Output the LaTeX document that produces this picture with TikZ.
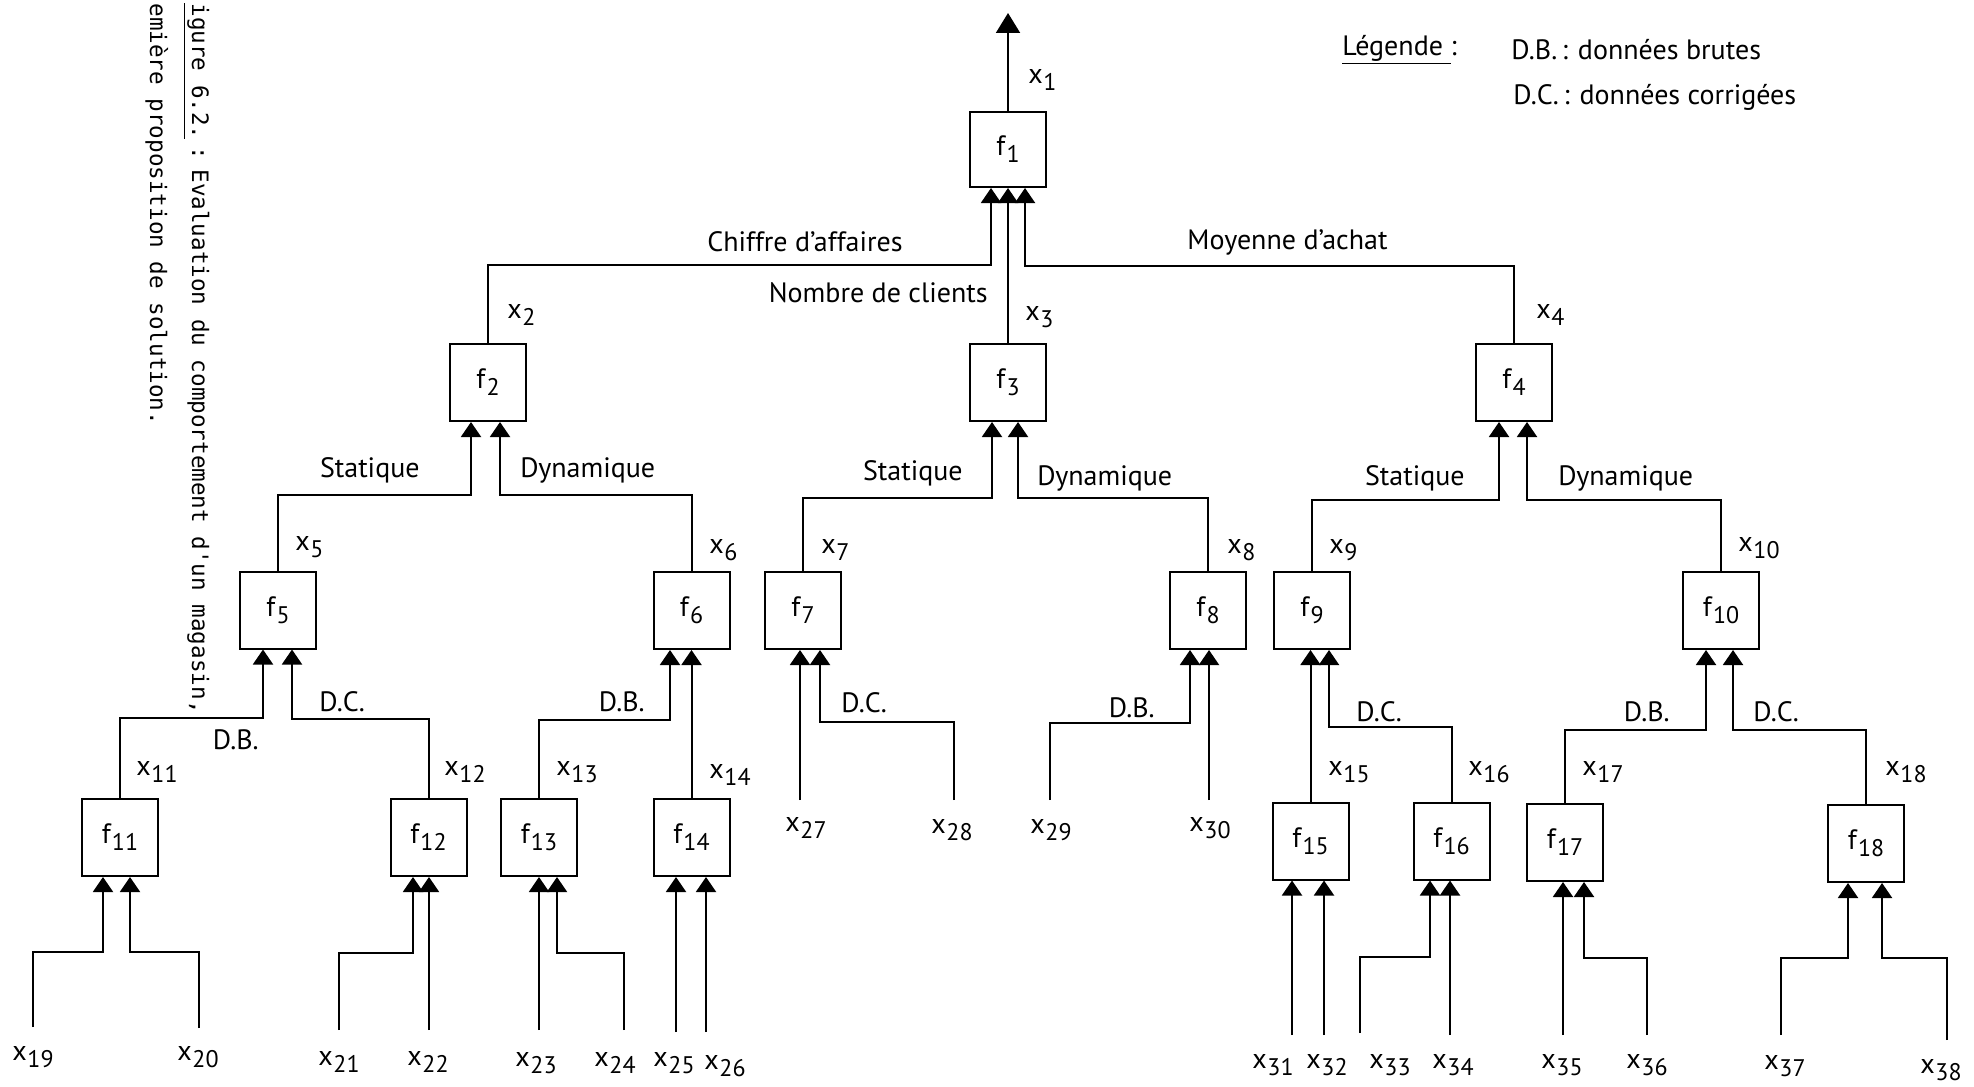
\documentclass[tikz,border=0pt]{standalone}
\usepackage{fontspec}
\setmainfont{PT Sans}
\newfontfamily\capfont{DejaVu Sans Mono}
\usetikzlibrary{arrows.meta}
\newcommand\xv[1]{x\kern0.3pt\raisebox{-3.5pt}{\fontsize{12}{12}\selectfont #1}}
\newcommand\fv[1]{f\kern0.6pt\raisebox{-3.5pt}{\fontsize{12}{12}\selectfont #1}}
\begin{document}
\begin{tikzpicture}[x=0.5pt,y=-0.5pt,
  fbox/.style={draw,line width=1pt,minimum width=38pt,minimum height=38.5pt,inner sep=0pt,font=\fontsize{14}{16}\selectfont},
  wire/.style={line width=1pt},
  inarr/.style={wire,-{Triangle[width=10pt,length=7.5pt]}},
  toparr/.style={wire,-{Triangle[width=12pt,length=10pt]}},
  lab/.style={inner sep=0pt,font=\fontsize{14}{16}\selectfont},
  captxt/.style={inner sep=0pt,font=\capfont\fontsize{11.3}{13}\selectfont}]
\useasboundingbox (0,0) rectangle (1974,1086);
\fill[white] (0,0) rectangle (1974,1086);

% caption
\node[captxt,rotate=-90,anchor=base west] (c1a) at (192,3) {\underline{igure 6.2.}};
\node[captxt,rotate=-90,anchor=base] (c1b) at (192,153) {:};
\node[captxt,rotate=-90,anchor=base west] (c1) at (192,169) {Evaluation du comportement d'un magasin,};
\node[captxt,rotate=-90,anchor=base west] (c2) at (150,3) {emière proposition de solution.};

% legend
\node[lab,anchor=west] (leg) at (1342,50) {\underline{Légende\ }:};
\node[lab,anchor=west] (db) at (1511,50) {D.B.\,: données brutes};
\node[lab,anchor=west] (dc) at (1513,97) {D.C.\,: données corrigées};

% boxes
\node[fbox,minimum height=37.5pt] (f1) at (1008,149.5) {\fv{1}};
\node[fbox] (f2) at (488,382.5) {\fv{2}};
\node[fbox] (f3) at (1008,382.5) {\fv{3}};
\node[fbox] (f4) at (1514,382.5) {\fv{4}};
\node[fbox] (f5) at (278,610) {\fv{5}};
\node[fbox] (f6) at (691.5,610.5) {\fv{6}};
\node[fbox] (f7) at (803,610.5) {\fv{7}};
\node[fbox] (f8) at (1208,610.5) {\fv{8}};
\node[fbox] (f9) at (1312,610.5) {\fv{9}};
\node[fbox] (f10) at (1721,610.5) {\fv{10}};
\node[fbox] (f11) at (120,837.5) {\fv{11}};
\node[fbox] (f12) at (428.5,837.5) {\fv{12}};
\node[fbox] (f13) at (539,837.5) {\fv{13}};
\node[fbox] (f14) at (691.5,837.5) {\fv{14}};
\node[fbox] (f15) at (1310.5,841) {\fv{15}};
\node[fbox] (f16) at (1451.5,841) {\fv{16}};
\node[fbox] (f17) at (1565,842.5) {\fv{17}};
\node[fbox] (f18) at (1866,843.5) {\fv{18}};

% top output
\coordinate (top) at (1008,13);
\draw[toparr] (f1.north) -- (top);

% level A
\draw[inarr] (f2.north) |- (991,265) -- (991,265 |- f1.south);
\draw[inarr] (f3.north) -- (f3.north |- f1.south);
\draw[inarr] (f4.north) |- (1025,266) -- (1025,266 |- f1.south);

% level B
\draw[inarr] (f5.north) |- (471,495) -- (471,495 |- f2.south);
\draw[inarr] (f6.north) |- (500,495) -- (500,495 |- f2.south);
\draw[inarr] (f7.north) |- (992,498) -- (992,498 |- f3.south);
\draw[inarr] (f8.north) |- (1018,498) -- (1018,498 |- f3.south);
\draw[inarr] (f9.north) |- (1499,500) -- (1499,500 |- f4.south);
\draw[inarr] (f10.north) |- (1527,500) -- (1527,500 |- f4.south);

% level C
\draw[inarr] (f11.north) |- (263,718) -- (263,718 |- f5.south);
\draw[inarr] (f12.north) |- (292,719) -- (292,719 |- f5.south);
\draw[inarr] (f13.north) |- (670,720) -- (670,720 |- f6.south);
\draw[inarr] (f14.north) -- (f14.north |- f6.south);
\coordinate (e27) at (800,800);
\coordinate (e28) at (954,800);
\coordinate (e29) at (1050,800);
\coordinate (e30) at (1209,800);
\draw[inarr] (e27) -- (e27 |- f7.south);
\draw[inarr] (e28) |- (820,722) -- (820,722 |- f7.south);
\draw[inarr] (e29) |- (1190,723) -- (1190,723 |- f8.south);
\draw[inarr] (e30) -- (e30 |- f8.south);
\draw[inarr] (f15.north) -- (f15.north |- f9.south);
\draw[inarr] (f16.north) |- (1329,727) -- (1329,727 |- f9.south);
\draw[inarr] (f17.north) |- (1706,730) -- (1706,730 |- f10.south);
\draw[inarr] (f18.north) |- (1733,730) -- (1733,730 |- f10.south);

% level D
\coordinate (e19) at (33,1027);
\coordinate (e20) at (199,1028);
\coordinate (e21) at (339,1030);
\coordinate (e22) at (429,1030);
\coordinate (e23) at (539,1030);
\coordinate (e24) at (624,1030);
\coordinate (e25) at (676,1032);
\coordinate (e26) at (706,1032);
\coordinate (e31) at (1292,1035);
\coordinate (e32) at (1324,1035);
\coordinate (e33) at (1360,1033);
\coordinate (e34) at (1450,1035);
\coordinate (e35) at (1563,1035);
\coordinate (e36) at (1647,1035);
\coordinate (e37) at (1781,1035);
\coordinate (e38) at (1947,1040);
\draw[inarr] (e19) |- (103,952) -- (103,952 |- f11.south);
\draw[inarr] (e20) |- (130,952) -- (130,952 |- f11.south);
\draw[inarr] (e21) |- (413,953) -- (413,953 |- f12.south);
\draw[inarr] (e22) -- (e22 |- f12.south);
\draw[inarr] (e23) -- (e23 |- f13.south);
\draw[inarr] (e24) |- (557,953) -- (557,953 |- f13.south);
\draw[inarr] (e25) -- (e25 |- f14.south);
\draw[inarr] (e26) -- (e26 |- f14.south);
\draw[inarr] (e31) -- (e31 |- f15.south);
\draw[inarr] (e32) -- (e32 |- f15.south);
\draw[inarr] (e33) |- (1430,957) -- (1430,957 |- f16.south);
\draw[inarr] (e34) -- (e34 |- f16.south);
\draw[inarr] (e35) -- (e35 |- f17.south);
\draw[inarr] (e36) |- (1584,958) -- (1584,958 |- f17.south);
\draw[inarr] (e37) |- (1848,958) -- (1848,958 |- f18.south);
\draw[inarr] (e38) |- (1882,958) -- (1882,958 |- f18.south);

% branch labels
\node[lab,anchor=east] (tca) at (903,242) {Chiffre d'affaires};
\node[lab,anchor=east] (tnc) at (988,293) {Nombre de clients};
\node[lab,anchor=west] (tma) at (1187,242) {Moyenne d'achat};
\node[lab,anchor=east] (s2) at (420,470) {Statique};
\node[lab,anchor=west] (d2) at (520,470) {Dynamique};
\node[lab,anchor=east] (s3) at (963,473) {Statique};
\node[lab,anchor=west] (d3) at (1037,478) {Dynamique};
\node[lab,anchor=east] (s4) at (1465,478) {Statique};
\node[lab,anchor=west] (d4) at (1558,478) {Dynamique};
\node[lab,anchor=west] (c5) at (319,702) {D.C.};
\node[lab,anchor=east] (b5) at (259,740) {D.B.};
\node[lab,anchor=east] (b6) at (645,702) {D.B.};
\node[lab,anchor=west] (c7) at (841,703) {D.C.};
\node[lab,anchor=east] (b8) at (1155,708) {D.B.};
\node[lab,anchor=west] (c9) at (1356,712) {D.C.};
\node[lab,anchor=east] (b10) at (1670,712) {D.B.};
\node[lab,anchor=west] (c10) at (1753,712) {D.C.};

% variable labels
\node[lab,anchor=west] (lx1) at (1028,80) {\xv{1}};
\node[lab,anchor=west] (lx2) at (507,315) {\xv{2}};
\node[lab,anchor=west] (lx3) at (1025,317) {\xv{3}};
\node[lab,anchor=west] (lx4) at (1536,315) {\xv{4}};
\node[lab,anchor=west] (lx5) at (295,547) {\xv{5}};
\node[lab,anchor=west] (lx6) at (709,550) {\xv{6}};
\node[lab,anchor=west] (lx7) at (821,550) {\xv{7}};
\node[lab,anchor=west] (lx8) at (1227,550) {\xv{8}};
\node[lab,anchor=west] (lx9) at (1329,550) {\xv{9}};
\node[lab,anchor=west] (lx10) at (1738,548) {\xv{10}};
\node[lab,anchor=west] (lx11) at (136,772) {\xv{11}};
\node[lab,anchor=west] (lx12) at (444,772) {\xv{12}};
\node[lab,anchor=west] (lx13) at (556,772) {\xv{13}};
\node[lab,anchor=west] (lx14) at (709,775) {\xv{14}};
\node[lab,anchor=west] (lx15) at (1328,772) {\xv{15}};
\node[lab,anchor=west] (lx16) at (1468,772) {\xv{16}};
\node[lab,anchor=west] (lx17) at (1582,772) {\xv{17}};
\node[lab,anchor=west] (lx18) at (1885,772) {\xv{18}};
\node[lab,anchor=west] (lx27) at (785,828) {\xv{27}};
\node[lab,anchor=west] (lx28) at (931,830) {\xv{28}};
\node[lab,anchor=west] (lx29) at (1030,830) {\xv{29}};
\node[lab,anchor=west] (lx30) at (1189,828) {\xv{30}};
\node[lab] (lx19) at (33,1057) {\xv{19}};
\node[lab] (lx20) at (198,1057) {\xv{20}};
\node[lab] (lx21) at (339,1062) {\xv{21}};
\node[lab] (lx22) at (428,1062) {\xv{22}};
\node[lab] (lx23) at (536,1063) {\xv{23}};
\node[lab] (lx24) at (615,1063) {\xv{24}};
\node[lab] (lx25) at (674,1063) {\xv{25}};
\node[lab] (lx26) at (725,1066) {\xv{26}};
\node[lab] (lx31) at (1273,1065) {\xv{31}};
\node[lab] (lx32) at (1327,1065) {\xv{32}};
\node[lab] (lx33) at (1390,1065) {\xv{33}};
\node[lab] (lx34) at (1453,1065) {\xv{34}};
\node[lab] (lx35) at (1562,1065) {\xv{35}};
\node[lab] (lx36) at (1647,1065) {\xv{36}};
\node[lab] (lx37) at (1785,1066) {\xv{37}};
\node[lab] (lx38) at (1941,1070) {\xv{38}};
\end{tikzpicture}
\end{document}
